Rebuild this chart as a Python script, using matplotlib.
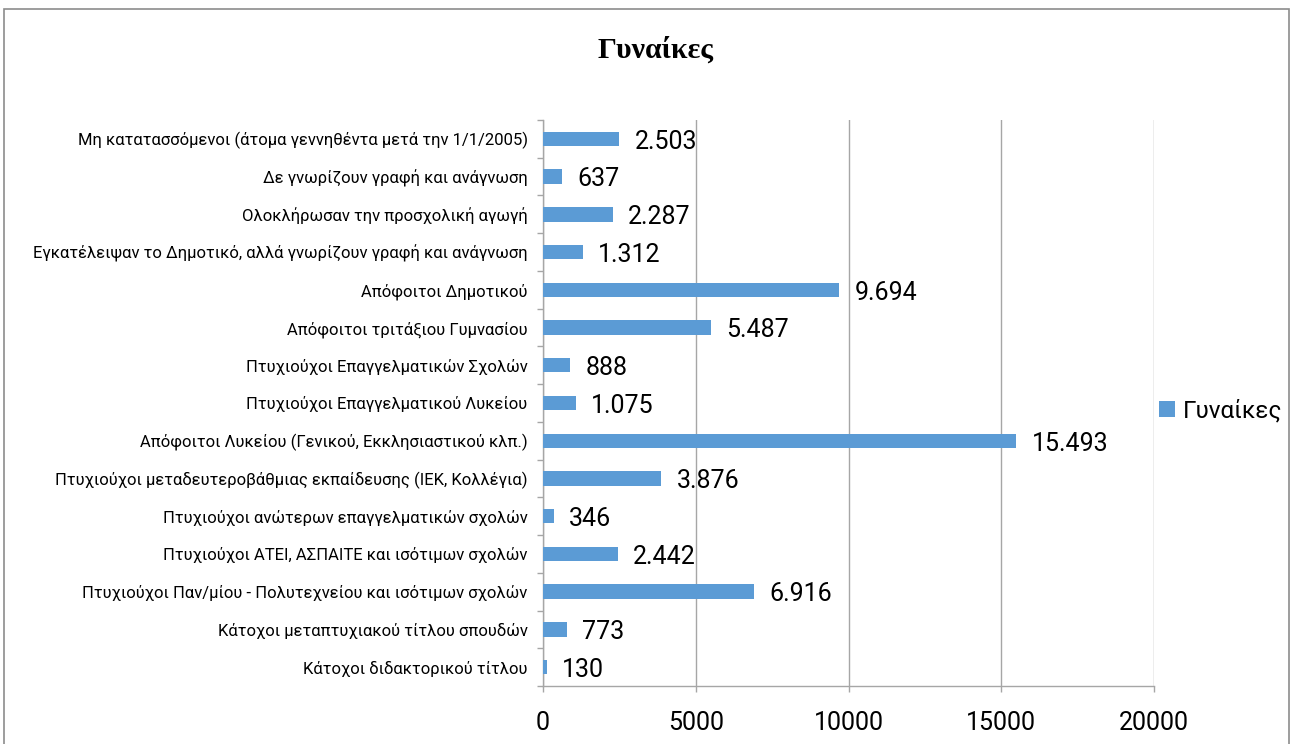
import matplotlib

matplotlib.use("Agg")
import matplotlib.pyplot as plt
from matplotlib.patches import Rectangle
from matplotlib.ticker import FixedLocator

plt.rcParams["font.family"] = ["Roboto", "DejaVu Sans"]

categories = [
    "Μη κατατασσόμενοι (άτομα γεννηθέντα μετά την 1/1/2005)",
    "Δε γνωρίζουν γραφή και ανάγνωση",
    "Ολοκλήρωσαν την προσχολική αγωγή",
    "Εγκατέλειψαν το Δημοτικό, αλλά γνωρίζουν γραφή και ανάγνωση",
    "Απόφοιτοι Δημοτικού",
    "Απόφοιτοι τριτάξιου Γυμνασίου",
    "Πτυχιούχοι Επαγγελματικών Σχολών",
    "Πτυχιούχοι Επαγγελματικού Λυκείου",
    "Απόφοιτοι Λυκείου (Γενικού, Εκκλησιαστικού κλπ.)",
    "Πτυχιούχοι μεταδευτεροβάθμιας εκπαίδευσης (ΙΕΚ, Κολλέγια)",
    "Πτυχιούχοι ανώτερων επαγγελματικών σχολών",
    "Πτυχιούχοι ΑΤΕΙ, ΑΣΠΑΙΤΕ και ισότιμων σχολών",
    "Πτυχιούχοι Παν/μίου - Πολυτεχνείου και ισότιμων σχολών",
    "Κάτοχοι μεταπτυχιακού τίτλου σπουδών",
    "Κάτοχοι διδακτορικού τίτλου",
]
women = [2503, 637, 2287, 1312, 9694, 5487, 888, 1075, 15493, 3876, 346, 2442, 6916, 773, 130]
x_ticks = [0, 5000, 10000, 15000, 20000]
series_name = "Γυναίκες"

bar_color = "#5B9BD5"
grid_color = "#A6A6A6"

fig = plt.figure(figsize=(12.92, 7.44), dpi=100)
ax = fig.add_axes([543 / 1292, 1 - 686 / 744, (1154 - 543) / 1292, (686 - 120) / 744])

positions = list(range(len(categories)))
ax.barh(positions, women, height=0.38, color=bar_color, label=series_name, zorder=3)

for y, v in zip(positions, women):
    ax.annotate(
        f"{v:,}".replace(",", "."),
        xy=(v, y),
        xytext=(11, -2),
        textcoords="offset points",
        ha="left",
        va="center",
        fontsize=18,
        color="black",
        zorder=4,
    )

ax.set_xlim(0, 20000)
ax.set_ylim(len(categories) - 0.5, -0.5)
ax.set_xticks(x_ticks)
ax.set_xticklabels([str(t) for t in x_ticks], fontsize=18)
ax.set_yticks(positions)
ax.set_yticklabels(categories, fontsize=12)
ax.yaxis.set_minor_locator(FixedLocator([p - 0.5 for p in range(len(categories) + 1)]))

ax.tick_params(axis="y", which="major", length=0, pad=11)
ax.tick_params(axis="y", which="minor", length=4, color=grid_color, width=1)
ax.tick_params(axis="x", which="major", length=4, color=grid_color, width=1, pad=14)

ax.grid(axis="x", color=grid_color, linewidth=1, zorder=0)
for side in ["top", "right"]:
    ax.spines[side].set_visible(False)
for side in ["left", "bottom"]:
    ax.spines[side].set_color(grid_color)
    ax.spines[side].set_linewidth(1)

fig.text(656 / 1292, 1 - 50 / 744, series_name, ha="center", va="center",
         fontsize=21.5, fontweight="bold", family="Liberation Serif")

ax.legend(
    loc="center left",
    bbox_to_anchor=(1159 / 1292, 1 - 411 / 744),
    bbox_transform=fig.transFigure,
    frameon=False,
    fontsize=17.5,
    handlelength=0.65,
    handleheight=0.65,
    handletextpad=0.35,
    borderpad=0,
    borderaxespad=0,
)

# outer chart frame
fig.add_artist(Rectangle((4 / 1292, -0.01), (1289 - 4) / 1292, 1.01 - 9 / 744,
                         transform=fig.transFigure, fill=False, edgecolor="#8C8C8C", linewidth=1.2))

fig.savefig("out.png", dpi=100)
